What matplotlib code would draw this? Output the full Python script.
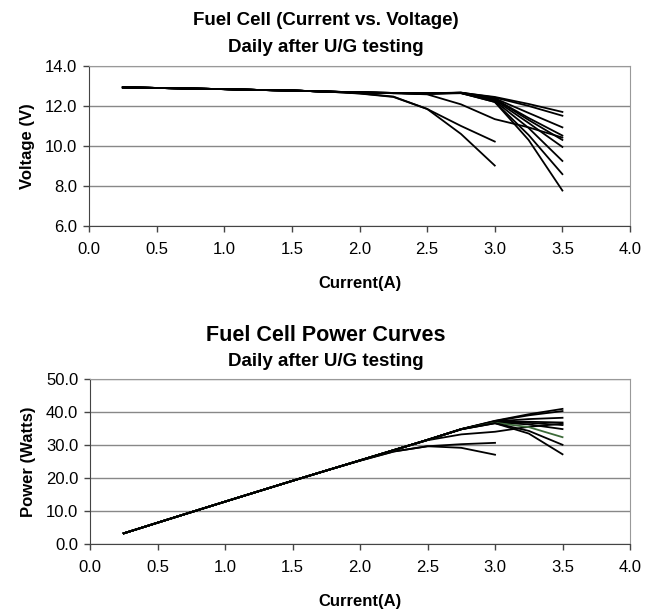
import numpy as np
import matplotlib.pyplot as plt

plt.rcParams['font.family'] = ['Liberation Sans', 'DejaVu Sans']

# current steps (A)
current = [0.25, 0.5, 0.75, 1.0, 1.25, 1.5, 1.75, 2.0, 2.25, 2.5, 2.75, 3.0, 3.25, 3.5]

# shared early part of every run (0.25 .. 1.75 A)
base_v = [12.93, 12.90, 12.87, 12.84, 12.80, 12.77, 12.72]

# voltage from 2.0 A onward, one list per daily run
tail_a = [12.62, 12.45, 11.85, 10.60, 9.02]
tail_b = [12.63, 12.47, 11.85, 11.00, 10.22]
tail_c = [12.67, 12.64, 12.58, 12.08, 11.34, 10.93, 10.42]
tail_f1 = [12.68, 12.65, 12.62, 12.66, 12.45, 12.10, 11.70]
tail_f2 = [12.67, 12.64, 12.63, 12.67, 12.42, 12.00, 11.51]
tail_f3 = [12.68, 12.65, 12.62, 12.65, 12.38, 11.65, 10.93]
tail_f4 = [12.67, 12.64, 12.63, 12.66, 12.35, 11.40, 10.52]
tail_f5 = [12.68, 12.65, 12.62, 12.65, 12.35, 11.30, 10.30]
tail_f6 = [12.67, 12.64, 12.63, 12.66, 12.30, 11.15, 9.95]
tail_f7 = [12.68, 12.65, 12.62, 12.64, 12.25, 10.90, 9.25]
tail_f8 = [12.67, 12.64, 12.63, 12.65, 12.20, 10.55, 8.59]
tail_f9 = [12.68, 12.65, 12.62, 12.64, 12.20, 10.30, 7.77]

runs = [tail_a, tail_b, tail_c, tail_f1, tail_f2, tail_f3, tail_f4,
        tail_f5, tail_f6, tail_f7, tail_f8, tail_f9]
power_colors = ['black'] * 9 + ['#3d6b3a', 'black', 'black']

fig = plt.figure(figsize=(6.56, 6.14), dpi=100)
ax1 = fig.add_axes([0.1357, 0.632, 0.8247, 0.2606])
ax2 = fig.add_axes([0.1372, 0.114, 0.8232, 0.2687])

for tail, col in zip(runs, power_colors):
    v = np.array(base_v + tail)
    i = np.array(current[:len(v)])
    ax1.plot(i, v, color='black', lw=1.3)
    ax2.plot(i, i * v, color=col, lw=1.3)


def style(ax, ylim, yticks, ylabel):
    ax.set_xlim(0, 4)
    ax.set_ylim(*ylim)
    xt = np.arange(0, 4.01, 0.5)
    ax.set_xticks(xt)
    ax.set_yticks(yticks)
    ax.set_xticklabels([f'{t:.1f}' for t in xt])
    ax.set_yticklabels([f'{t:.1f}' for t in yticks])
    ax.tick_params(labelsize=12, length=4.5, width=1, color='#444444')
    ax.tick_params(axis='x', pad=7)
    ax.tick_params(axis='y', pad=4)
    ax.grid(axis='y', color='#888888', lw=1)
    ax.set_axisbelow(True)
    for s in ['top', 'right']:
        ax.spines[s].set_color('#999999')
    for s in ['left', 'bottom']:
        ax.spines[s].set_color('#444444')
    ax.set_xlabel('Current(A)', fontsize=12, fontweight='bold', labelpad=14)
    ax.set_ylabel(ylabel, fontsize=12, fontweight='bold', labelpad=7)


style(ax1, (6, 14), [6.0, 8.0, 10.0, 12.0, 14.0], 'Voltage (V)')
style(ax2, (0, 50), [0.0, 10.0, 20.0, 30.0, 40.0, 50.0], 'Power (Watts)')

fig.text(0.496, 0.967, 'Fuel Cell (Current vs. Voltage)', ha='center', va='center',
         fontsize=13.5, fontweight='bold')
fig.text(0.496, 0.923, 'Daily after U/G testing', ha='center', va='center',
         fontsize=13.5, fontweight='bold')
fig.text(0.496, 0.453, 'Fuel Cell Power Curves', ha='center', va='center',
         fontsize=15.5, fontweight='bold')
fig.text(0.496, 0.412, 'Daily after U/G testing', ha='center', va='center',
         fontsize=13.5, fontweight='bold')

fig.savefig('out.png', dpi=100)
